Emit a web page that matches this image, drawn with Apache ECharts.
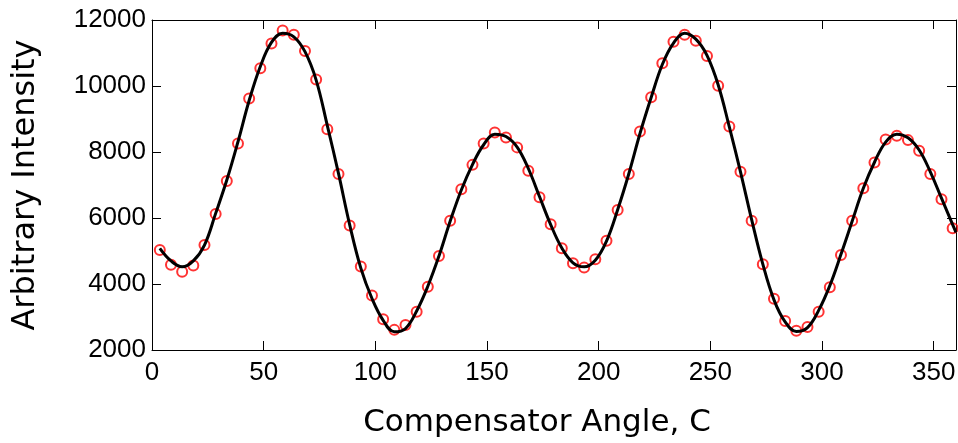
<!DOCTYPE html>
<html>
<head>
<meta charset="utf-8">
<script src="https://cdn.jsdelivr.net/npm/echarts@6/dist/echarts.min.js"></script>
<style>
html,body{margin:0;padding:0;background:#fff;}
#chart{width:958px;height:443px;}
</style>
</head>
<body>
<div id="chart"></div>
<script>
// Measured data (red circles)
var angles = [3.5,8.5,13.5,18.5,23.5,28.5,33.5,38.5,43.5,48.5,53.5,58.5,63.5,68.5,73.5,78.5,83.5,88.5,93.5,98.5,103.5,108.5,113.5,118.5,123.5,128.5,133.5,138.5,143.5,148.5,153.5,158.5,163.5,168.5,173.5,178.5,183.5,188.5,193.5,198.5,203.5,208.5,213.5,218.5,223.5,228.5,233.5,238.5,243.5,248.5,253.5,258.5,263.5,268.5,273.5,278.5,283.5,288.5,293.5,298.5,303.5,308.5,313.5,318.5,323.5,328.5,333.5,338.5,343.5,348.5,353.5,358.5];
var measured = [5030,4580,4370,4560,5180,6120,7120,8260,9620,10540,11290,11680,11550,11060,10200,8690,7330,5770,4530,3650,2930,2610,2760,
  3160,3920,4850,5920,6870,7610,8260,8590,8440,8140,7430,6630,5810,5080,4630,4500,4750,5310,6240,7330,8620,9660,10690,11340,
  11550,11370,10910,10010,8770,7400,5920,4600,3550,2880,2580,2700,3160,3900,4880,5920,6900,7680,8380,8490,8360,8040,7330,6570,5690];
// Fitted curve (black line)
var fitAngles = [3.5,8.5,13.5,18.5,23.5,28.5,33.5,38.5,43.5,48.5,53.5,58.5,63.5,68.5,73.5,78.5,83.5,88.5,93.5,98.5,103.5,108.5,113.5,118.5,123.5,128.5,133.5,138.5,143.5,148.5,153.5,158.5,163.5,168.5,173.5,178.5,183.5,188.5,193.5,198.5,203.5,208.5,213.5,218.5,223.5,228.5,233.5,238.5,243.5,248.5,253.5,258.5,263.5,268.5,273.5,278.5,283.5,288.5,293.5,298.5,303.5,308.5,313.5,318.5,323.5,328.5,333.5,338.5,343.5,348.5,353.5,358.5,360];
var fitValues = [5080,4700,4520,4700,5180,6140,7150,8310,9560,10590,11320,11600,11490,11040,10180,8800,7350,5800,4480,3560,2900,2550,2650,
  3180,3930,4850,5900,6850,7620,8220,8540,8470,8150,7500,6650,5800,5090,4640,4520,4720,5300,6250,7340,8560,9650,10650,11300,
  11600,11420,10930,10040,8760,7400,5950,4600,3520,2850,2560,2680,3200,3950,4900,5900,6900,7690,8300,8540,8430,8060,7400,6600,5800,5560];
var xTitle = 'Compensator Angle, C';
var yTitle = 'Arbitrary Intensity';

var chart = echarts.init(document.getElementById('chart'));
var tickFont = '"Liberation Sans", Arial, Helvetica, sans-serif';
var titleFont = '"DejaVu Sans", "Liberation Sans", sans-serif';
var axisCommon = {
  axisLine: {show: true, onZero: false, lineStyle: {color: '#000', width: 1}},
  axisTick: {show: true, inside: true, length: 9, lineStyle: {color: '#000', width: 1}},
  splitLine: {show: false}
};
function mk(base, extra) { return Object.assign({}, base, extra); }
function plain(v) { return String(v); }

chart.setOption({
  animation: false,
  backgroundColor: '#fff',
  grid: {left: 152, top: 20, right: 2, bottom: 93, containLabel: false, outerBoundsMode: 'none'},
  xAxis: [
    mk(axisCommon, {type: 'value', min: 0, max: 360, interval: 50, position: 'bottom',
      name: xTitle, nameLocation: 'middle', nameGap: 57,
      nameTextStyle: {fontFamily: titleFont, fontSize: 31, color: '#000', padding: [0, 34, 0, 0]},
      axisLabel: {show: true, showMaxLabel: false, margin: 10, fontFamily: tickFont, fontSize: 26, color: '#000', formatter: plain}}),
    mk(axisCommon, {type: 'value', min: 0, max: 360, interval: 50, position: 'top',
      axisLabel: {show: false}})
  ],
  yAxis: [
    mk(axisCommon, {type: 'value', min: 2000, max: 12000, interval: 2000, position: 'left',
      name: yTitle, nameLocation: 'middle', nameGap: 110,
      nameTextStyle: {fontFamily: titleFont, fontSize: 32, color: '#000'},
      axisLabel: {show: true, margin: 6, fontFamily: tickFont, fontSize: 26, color: '#000', formatter: plain}}),
    mk(axisCommon, {type: 'value', min: 2000, max: 12000, interval: 2000, position: 'right',
      axisLabel: {show: false}})
  ],
  series: [
    {
      type: 'scatter', xAxisIndex: 0, yAxisIndex: 0,
      data: angles.map(function (a, i) { return [a, measured[i]]; }),
      symbol: 'circle', symbolSize: 10,
      itemStyle: {color: 'rgba(0,0,0,0)', borderColor: '#ff0000', borderWidth: 2},
      z: 2
    },
    {
      type: 'line', xAxisIndex: 0, yAxisIndex: 0,
      data: fitAngles.map(function (a, i) { return [a, fitValues[i]]; }),
      smooth: 0.4, showSymbol: false, symbol: 'none',
      lineStyle: {color: '#000', width: 3},
      z: 3
    }
  ]
});
</script>
</body>
</html>
